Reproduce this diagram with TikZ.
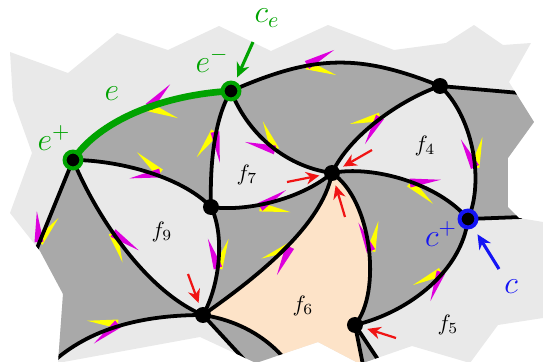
\documentclass[tikz,border=0pt]{standalone}
\usetikzlibrary{arrows.meta,calc}
\definecolor{sheet}{HTML}{E9E9E9}
\definecolor{facegray}{HTML}{A9A9A9}
\definecolor{peach}{HTML}{FDE3C8}
\definecolor{leaf}{HTML}{00A300}
\definecolor{navy}{HTML}{1414F5}
\definecolor{alert}{HTML}{F01414}
\definecolor{plum}{HTML}{DD00DD}
\definecolor{lemon}{HTML}{FFFF00}
\newcommand{\flags}[3]{%
  \fill[lemon] ($(#1)+(#2+90:4.5)$) -- ($(#1)+(#2:31)$) -- ($(#1)+(#2-90:4.5)$) -- cycle;
  \fill[plum] ($(#1)+(#3+90:4.5)$) -- ($(#1)+(#3:31)$) -- ($(#1)+(#3-90:4.5)$) -- cycle;}

\begin{document}
\begin{tikzpicture}[x=0.45pt,y=-0.45pt,
  seam/.style={line width=1.7pt},
  vtx/.style={circle,fill=black,inner sep=0pt,minimum size=7.2pt},
  vring/.style={vtx,draw=#1,line width=1.8pt,minimum size=7.6pt},
  facelbl/.style={font=\normalsize},
  taglbl/.style={text=#1,font=\Large},
  hint/.style={draw=alert,line width=1pt,-{Stealth[length=6pt,width=5.6pt]},shorten >=2pt},
  pointer/.style={draw=#1,line width=1.4pt,-{Stealth[length=6.5pt,width=6pt]},shorten >=2pt}
]
\useasboundingbox (0,0) rectangle (543,362);
\coordinate (A) at (73,160);
\coordinate (B) at (231,91);
\coordinate (C) at (440,86);
\coordinate (D) at (332,173);
\coordinate (E) at (211,207);
\coordinate (F) at (203,315);
\coordinate (G) at (355,325);
\coordinate (H) at (468,219);

\begin{scope}
\clip (10,52) -- (68,73) -- (117,33) -- (168,50) -- (219,26) -- (271,51) -- (328,25)
  -- (394,50) -- (446,43) -- (474,25) -- (503,45) -- (531,43) -- (509,82) -- (534,122)
  -- (508,158) -- (508,207) -- (519,218) -- (543,222) -- (543,318) -- (498,325)
  -- (470,363) -- (412,346) -- (360,364) -- (318,342) -- (256,363) -- (200,337)
  -- (58,363) -- (63,294) -- (40,251) -- (10,213) -- (32,153) -- (13,100) -- cycle;
\fill[sheet] (0,0) rectangle (543,362);
\fill[facegray] (A) .. controls (98,122) and (160,95) .. (B) .. controls (212,122) and (210,175) .. (E)
  .. controls (180,175) and (115,160) .. (A) -- cycle;
\fill[facegray] (B) .. controls (313,55) and (358,53) .. (C) .. controls (400,100) and (350,135) .. (D)
  .. controls (282,166) and (246,130) .. (B) -- cycle;
\fill[facegray] (C) -- (560,95) -- (560,217) -- (H) .. controls (485,180) and (472,115) .. (C) -- cycle;
\fill[facegray] (D) .. controls (372,165) and (438,183) .. (H) .. controls (462,270) and (410,312) .. (G)
  .. controls (382,292) and (372,200) .. (D) -- cycle;
\fill[facegray] (E) .. controls (245,212) and (300,200) .. (D) .. controls (322,228) and (250,282) .. (F)
  .. controls (220,285) and (225,235) .. (E) -- cycle;
\fill[facegray] (A) .. controls (98,220) and (148,292) .. (F) .. controls (150,315) and (95,325) .. (54,361)
  -- (0,370) -- (0,258) -- (33,258) -- (A) -- cycle;
\fill[facegray] (F) -- (252,368) -- (292,368) .. controls (268,335) and (235,320) .. (F) -- cycle;
\fill[facegray] (G) -- (364,370) -- (385,370) -- cycle;
\fill[peach] (F) .. controls (250,282) and (322,228) .. (D) .. controls (372,200) and (382,292) .. (G)
  -- (364,370) -- (292,368) .. controls (268,335) and (235,320) .. (F) -- cycle;

\flags{149,107}{21}{-47}
\flags{160,173}{222}{170}
\flags{215,132}{126}{81}
\flags{275,150}{247}{195}
\flags{307,65}{19}{-29}
\flags{380,117}{167}{119}
\flags{475,167}{284}{243}
\flags{410,183}{42}{-6}
\flags{260,207}{9.5}{-33}
\flags{218,268}{-70}{-109}
\flags{113,233}{72}{34}
\flags{39,242}{-51}{-94}
\flags{118,324}{186}{141}
\flags{290,247}{158}{115}
\flags{371,251}{-76}{-114}
\flags{441,272}{155}{110}

\draw[seam] (B) .. controls (313,55) and (358,53) .. (C);
\draw[seam] (C) -- (520,93);
\draw[seam] (C) .. controls (400,100) and (350,135) .. (D);
\draw[seam] (C) .. controls (472,115) and (485,180) .. (H);
\draw[seam] (H) -- (522,217);
\draw[seam] (B) .. controls (246,130) and (282,166) .. (D);
\draw[seam] (B) .. controls (212,122) and (210,175) .. (E);
\draw[seam] (E) .. controls (245,212) and (300,200) .. (D);
\draw[seam] (E) .. controls (225,235) and (220,285) .. (F);
\draw[seam] (A) .. controls (115,160) and (180,175) .. (E);
\draw[seam] (A) .. controls (98,220) and (148,292) .. (F);
\draw[seam] (A) -- (33,258);
\draw[seam] (F) .. controls (150,315) and (95,325) .. (54,361);
\draw[seam] (F) .. controls (250,282) and (322,228) .. (D);
\draw[seam] (D) .. controls (372,200) and (382,292) .. (G);
\draw[seam] (G) .. controls (410,312) and (462,270) .. (H);
\draw[seam] (D) .. controls (372,165) and (438,183) .. (H);
\draw[seam] (F) -- (252,368);
\draw[seam] (F) .. controls (235,320) and (268,335) .. (292,368);
\draw[seam] (G) -- (364,370);
\draw[seam] (G) -- (385,370);
\draw[seam,draw=leaf,line width=3pt] (A) .. controls (98,122) and (160,95) .. (B);
\end{scope}

\node[vring=leaf] (a) at (A) {};
\node[vring=leaf] (b) at (B) {};
\node[vtx] (c) at (C) {};
\node[vtx] (d) at (D) {};
\node[vtx] (e) at (E) {};
\node[vtx] (f) at (F) {};
\node[vtx] (g) at (G) {};
\node[vring=navy] (h) at (H) {};

\node[taglbl=leaf] (le) at (112,94) {$e$};
\node[taglbl=leaf] (lep) at (54,138) {$e^+$};
\node[taglbl=leaf] (lem) at (212,60) {$e^-$};
\node[taglbl=leaf] (lce) at (267,18) {$c_e$};
\node[taglbl=navy] (lcp) at (441,234) {$c^+$};
\node[taglbl=navy] (lc) at (511,287) {$c$};
\node[facelbl] (f4) at (425,146) {$f_4$};
\node[facelbl] (f5) at (448,325) {$f_5$};
\node[facelbl] (f6) at (303,306) {$f_6$};
\node[facelbl] (f7) at (247,175) {$f_7$};
\node[facelbl] (f9) at (162,232) {$f_9$};

\coordinate (ceTail) at (253,42);
\coordinate (cTail) at (499,269);
\draw[pointer=leaf] (ceTail) -- (b);
\draw[pointer=navy,shorten >=3.4pt] (cTail) -- (h);
\coordinate (hintD1) at (372,150);
\coordinate (hintD2) at (287,182);
\coordinate (hintD3) at (345,217);
\coordinate (hintF) at (188,274);
\coordinate (hintG) at (396,338);
\draw[hint] (hintD1) -- (d);
\draw[hint] (hintD2) -- (d);
\draw[hint] (hintD3) -- (d);
\draw[hint] (hintF) -- (f);
\draw[hint] (hintG) -- (g);
\end{tikzpicture}
\end{document}
